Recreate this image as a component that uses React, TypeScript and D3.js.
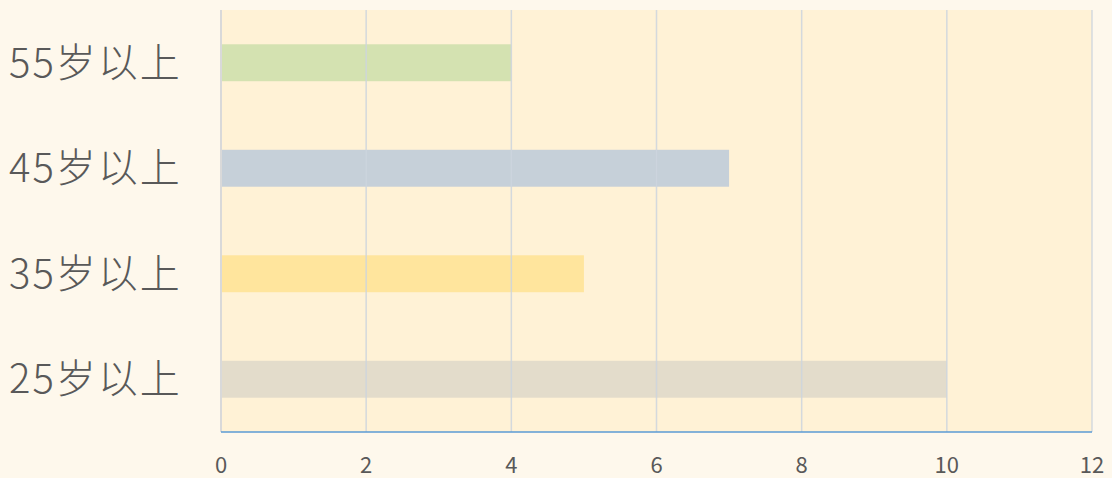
import React from "react";
import * as d3 from "d3";

const categories = ["55岁以上", "45岁以上", "35岁以上", "25岁以上"];
const values = [4, 7, 5, 10];
const barColors = ["#d4e2b1", "#c6d0d9", "#ffe59d", "#e3dccb"];
const xTicks = [0, 2, 4, 6, 8, 10, 12];

export default function App() {
  const width = 1112;
  const height = 478;
  const margin = { top: 10, right: 20, bottom: 46, left: 221 };

  const x = d3
    .scaleLinear()
    .domain([0, 12])
    .range([margin.left, width - margin.right]);

  const y = d3
    .scaleBand<string>()
    .domain(categories)
    .range([margin.top, height - margin.bottom])
    .paddingInner(0.65)
    .paddingOuter(0.325);

  const font = "'Noto Sans CJK SC', 'Noto Sans', sans-serif";
  const plotBottom = height - margin.bottom;

  return (
    <svg
      width={width}
      height={height}
      style={{ position: "absolute", left: 0, top: 0, background: "#fef8ec" }}
    >
      <rect x={0} y={0} width={width} height={height} fill="#fef8ec" />
      {/* plot background */}
      <rect
        x={margin.left}
        y={margin.top}
        width={x(12) - margin.left}
        height={plotBottom - margin.top}
        fill="#fff2d6"
      />

      {/* bars */}
      {categories.map((c, i) => (
        <rect
          key={c}
          x={x(0)}
          y={y(c)}
          width={x(values[i]) - x(0)}
          height={y.bandwidth()}
          fill={barColors[i]}
        />
      ))}

      {/* grid lines, drawn over the bars */}
      {xTicks.map((t) => (
        <line
          key={t}
          x1={x(t)}
          x2={x(t)}
          y1={margin.top}
          y2={plotBottom}
          stroke={t === 0 ? "#d9d9d9" : "#cdd5de"}
          strokeOpacity={t === 0 ? 1 : 0.85}
          strokeWidth={t === 0 ? 2 : 1.5}
        />
      ))}

      {/* bottom axis line */}
      <line
        x1={x(0)}
        x2={x(12)}
        y1={plotBottom}
        y2={plotBottom}
        stroke="#5b9bd5"
        strokeWidth={1.5}
      />

      {/* tick labels */}
      {xTicks.map((t) => (
        <text
          key={t}
          x={x(t)}
          y={463}
          textAnchor="middle"
          dominantBaseline="central"
          fill="#595959"
          style={{ fontFamily: font, fontSize: 22 }}
        >
          {t}
        </text>
      ))}

      {/* category labels */}
      {categories.map((c) => (
        <text
          key={c}
          x={9}
          y={(y(c) ?? 0) + y.bandwidth() / 2 - 3}
          dominantBaseline="central"
          fill="#595959"
          style={{ fontFamily: font, fontSize: 40, fontWeight: 300, letterSpacing: 2 }}
        >
          {c}
        </text>
      ))}
    </svg>
  );
}
